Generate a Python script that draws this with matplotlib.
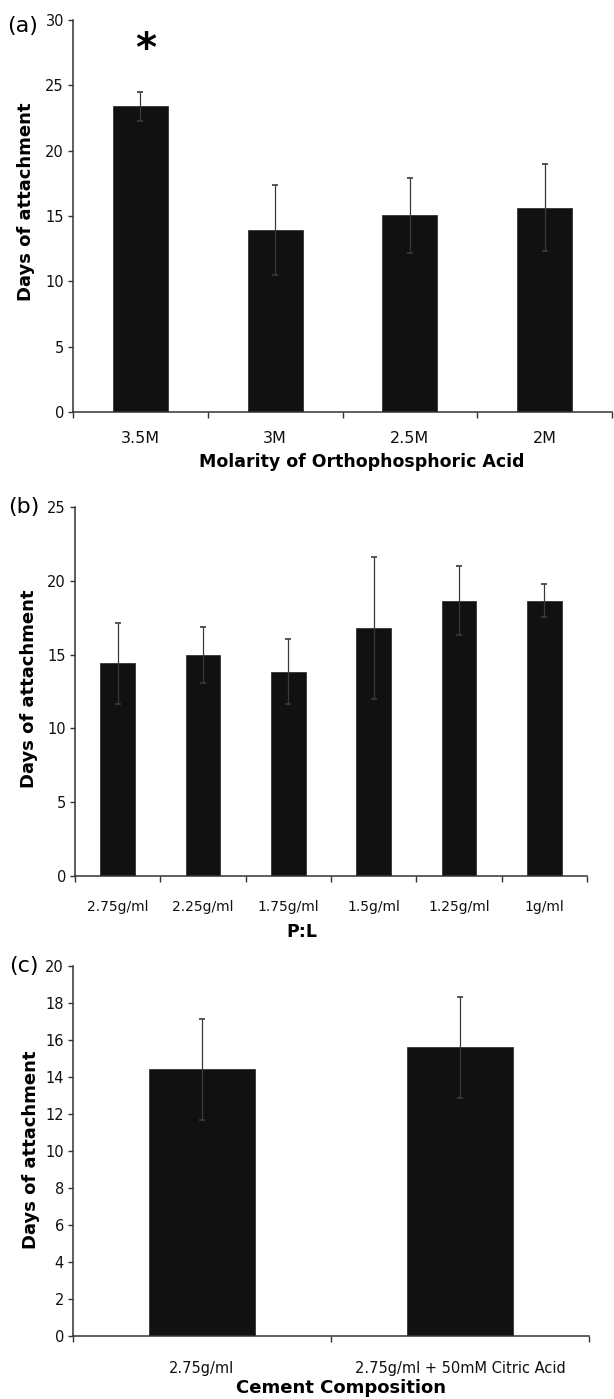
import numpy as np
import matplotlib
matplotlib.use("Agg")
from matplotlib import pyplot as plt

# panel (a): molarity of orthophosphoric acid
molarity = ["3.5M", "3M", "2.5M", "2M"]
molarity_days = [23.4, 13.9, 15.05, 15.65]
molarity_err = [1.1, 3.45, 2.85, 3.35]

# panel (b): powder to liquid ratio
pl_ratio = ["2.75g/ml", "2.25g/ml", "1.75g/ml", "1.5g/ml", "1.25g/ml", "1g/ml"]
pl_days = [14.4, 15.0, 13.85, 16.8, 18.65, 18.65]
pl_err = [2.72, 1.9, 2.22, 4.78, 2.35, 1.1]

# panel (c): cement composition
composition = ["2.75g/ml", "2.75g/ml + 50mM Citric Acid"]
composition_days = [14.43, 15.6]
composition_err = [2.73, 2.75]

W, H = 614, 1399
fig = plt.figure(figsize=(W / 100, H / 100), dpi=100)
plt.rcParams['font.family'] = 'DejaVu Sans'

AXIS_COLOR = '#333333'
BAR_COLOR = '#111111'


def px_axes(left, right, top, bottom):
    # axes box from pixel edges (origin top-left)
    return fig.add_axes([left / W, 1 - bottom / H, (right - left) / W, (bottom - top) / H])


def draw_panel(ax, cats, vals, errs, ymax, ystep, xlabel, xl_pos, yl_pos,
               tick_size, tick_pad, letter, letter_pos, xl_size=12.5):
    n = len(cats)
    x = np.arange(n)
    ax.bar(x, vals, width=0.41, color=BAR_COLOR, edgecolor='#222222', linewidth=0.5,
           yerr=errs, error_kw=dict(ecolor='#3a3a3a', elinewidth=0.9, capsize=2.2, capthick=1.2))
    ax.set_xlim(-0.5, n - 0.5)
    ax.set_ylim(0, ymax)
    ax.set_yticks(np.arange(0, ymax + 0.1, ystep))
    ax.set_xticks(x)
    ax.set_xticklabels(cats, fontsize=tick_size, color='#111111')
    ax.set_xticks(np.arange(n + 1) - 0.5, minor=True)
    ax.tick_params(axis='x', which='major', length=0, pad=tick_pad)
    ax.tick_params(axis='x', which='minor', length=4, width=1, color=AXIS_COLOR, direction='out')
    ax.tick_params(axis='y', length=3.5, width=1, color=AXIS_COLOR, pad=3,
                   labelsize=10.5, labelcolor='#111111')
    for s in ['top', 'right']:
        ax.spines[s].set_visible(False)
    for s in ['left', 'bottom']:
        ax.spines[s].set_color(AXIS_COLOR)
        ax.spines[s].set_linewidth(1.1)
    ax.set_xlabel(xlabel, fontsize=xl_size, fontweight='bold', va='center')
    ax.xaxis.set_label_coords(*xl_pos)
    ax.set_ylabel("Days of attachment", fontsize=13, fontweight='bold', va='center')
    ax.yaxis.set_label_coords(*yl_pos)
    fig.text(letter_pos[0] / W, 1 - letter_pos[1] / H, letter, fontsize=16,
             ha='center', va='center')


ax_a = px_axes(73, 612, 20, 412)
draw_panel(ax_a, molarity, molarity_days, molarity_err, 30, 5,
           "Molarity of Orthophosphoric Acid", (0.536, -0.127), (-0.088, 0.536),
           11.5, 14, "(a)", (23, 26))
ax_a.text(0.04, 27.7, "*", fontsize=29, fontweight='bold', ha='center', va='center')

ax_b = px_axes(75, 587, 507, 876)
draw_panel(ax_b, pl_ratio, pl_days, pl_err, 25, 5,
           "P:L", (0.443, -0.151), (-0.09, 0.507),
           10, 17, "(b)", (24, 507))

ax_c = px_axes(73, 589, 966, 1336)
draw_panel(ax_c, composition, composition_days, composition_err, 20, 2,
           "Cement Composition", (0.519, -0.1405), (-0.081, 0.503),
           10.5, 18, "(c)", (24, 966), xl_size=13)

fig.savefig("out.png", dpi=100)
